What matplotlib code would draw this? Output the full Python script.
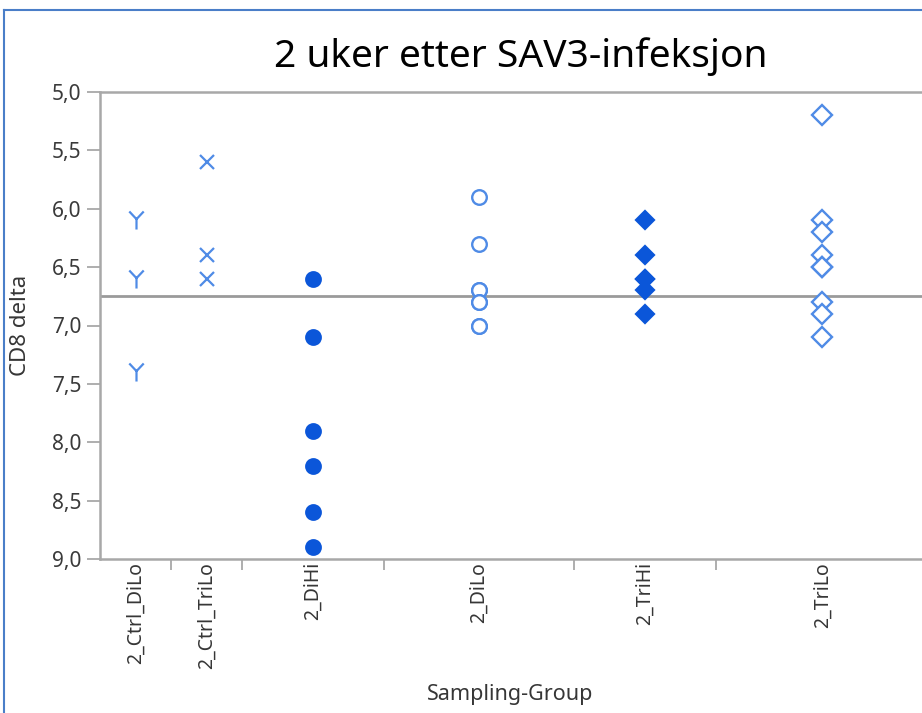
import numpy as np
import matplotlib.pyplot as plt
from matplotlib.lines import Line2D
from matplotlib.path import Path
from matplotlib.ticker import FuncFormatter

# Data (CD8 delta per sampling group)
groups = ["2_Ctrl_DiLo", "2_Ctrl_TriLo", "2_DiHi", "2_DiLo", "2_TriHi", "2_TriLo"]
ctrl_dilo = [6.1, 6.6, 7.4]
ctrl_trilo = [5.6, 6.4, 6.6]
dihi = [6.6, 7.1, 7.9, 8.2, 8.6, 8.9]
dilo = [5.9, 6.3, 6.7, 6.7, 6.8, 6.8, 7.0, 7.0]
trihi = [6.1, 6.4, 6.6, 6.6, 6.7, 6.9]
trilo = [5.2, 6.1, 6.2, 6.4, 6.5, 6.5, 6.8, 6.9, 7.1]
series = [ctrl_dilo, ctrl_trilo, dihi, dilo, trihi, trilo]

# "Y" shaped marker like JMP uses
y_marker = Path([(-0.8, 1), (0, 0.15), (0.8, 1), (0, 0.15), (0, 0.15), (0, -1)],
                [Path.MOVETO, Path.LINETO, Path.MOVETO, Path.LINETO, Path.MOVETO, Path.LINETO])

dark_blue = "#0B56D9"
light_blue = "#4F8BE6"
# marker, face colour, edge colour, size
styles = [
    (y_marker, light_blue, light_blue, 13),
    ("x", light_blue, light_blue, 10.5),
    ("o", dark_blue, dark_blue, 10.5),
    ("o", "white", light_blue, 10.5),
    ("D", dark_blue, dark_blue, 9.2),
    ("D", "white", light_blue, 10),
]

plt.rcParams['font.family'] = ['Noto Sans', 'DejaVu Sans']

W, H = 922, 713
fig = plt.figure(figsize=(W / 100, H / 100), dpi=100)
# plot area runs past the right edge, as in the screenshot
ax = fig.add_axes([100 / W, (H - 559) / H, 829 / W, 467 / H])

# JMP style: group width proportional to number of observations
counts = np.array([len(s) for s in series])
edges = np.concatenate([[0], np.cumsum(counts)])
centers = edges[:-1] + counts / 2

for (mk, fc, ec, ms), xc, vals in zip(styles, centers, series):
    ax.plot(np.full(len(vals), xc), vals, linestyle="none", marker=mk,
            markersize=ms, markerfacecolor=fc, markeredgecolor=ec,
            markeredgewidth=1.7 if fc == "white" else 1.6, zorder=3)

grand_mean = np.mean(np.concatenate(series))
ax.axhline(grand_mean, color="#9A9A9A", lw=2, zorder=2)

ax.set_xlim(edges[0], edges[-1])
ax.set_ylim(9.0, 5.0)
ax.set_yticks(np.arange(5.0, 9.01, 0.5))
ax.yaxis.set_major_formatter(FuncFormatter(lambda v, p: f"{v:.1f}".replace(".", ",")))

ax.set_xticks(edges[1:-1])
ax.set_xticklabels([])
ax.set_xticks(centers, minor=True)
ax.set_xticklabels(groups, minor=True, rotation=90)
ax.tick_params(axis="x", which="minor", length=0, pad=2, labelsize=14, labelcolor="#363636")
ax.tick_params(axis="x", which="major", length=8, width=1.3, color="#A8A8A8")
ax.tick_params(axis="y", length=9.5, width=1.3, color="#A8A8A8", labelsize=15,
               labelcolor="#3A3A3A", pad=4)

for side in ["left", "bottom", "top"]:
    ax.spines[side].set_color("#A8A8A8")
    ax.spines[side].set_linewidth(1.8)
ax.spines["right"].set_visible(False)

ax.set_ylabel("CD8 delta", fontsize=16, color="#363636")
ax.yaxis.set_label_coords(-0.083, 0.5)
ax.set_xlabel("Sampling-Group", fontsize=15.5, color="#363636")
ax.xaxis.set_label_coords(0.4946, -0.268)

fig.text(521 / W, 1 - 67 / H, "2 uker etter SAV3-infeksjon", ha="center",
         va="baseline", fontsize=28, color="black")

# blue frame of the screenshot
border = "#4A7EC8"
fig.add_artist(Line2D([4 / W, 4 / W], [0, 1 - 10 / H], color=border, lw=1.5,
                      transform=fig.transFigure))
fig.add_artist(Line2D([4 / W, 1], [1 - 10 / H, 1 - 10 / H], color=border, lw=1.5,
                      transform=fig.transFigure))

fig.savefig("out.png", dpi=100)
